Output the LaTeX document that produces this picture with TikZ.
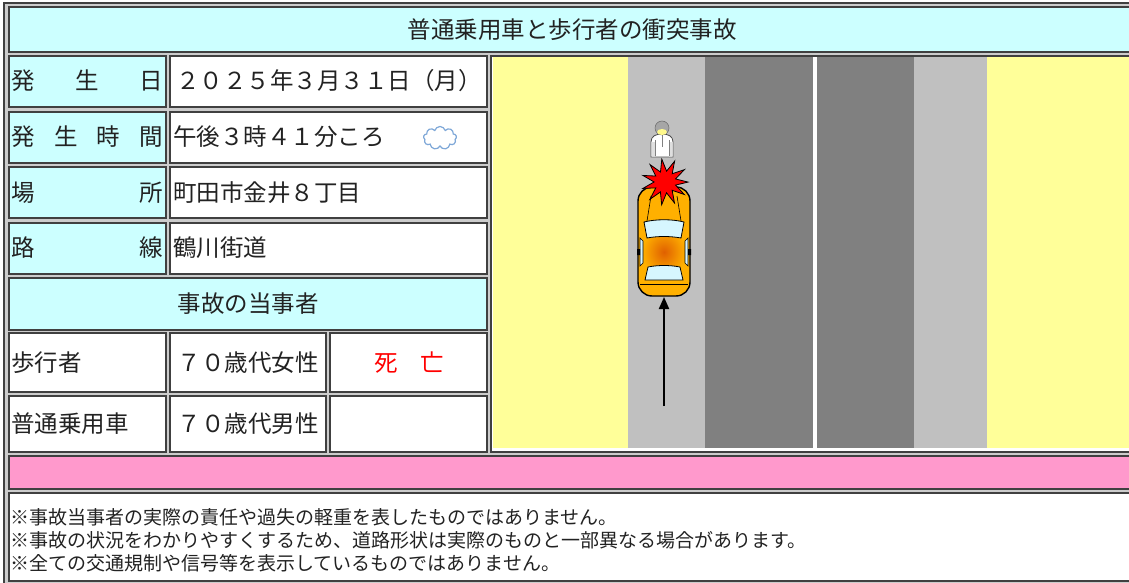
\documentclass[tikz,border=0pt]{standalone}
\usepackage{fontspec}
\setmainfont{Noto Sans CJK JP}
\usetikzlibrary{arrows.meta,shapes.geometric,shapes.symbols}
\definecolor{headcyan}{HTML}{CCFFFF}
\definecolor{roadside}{HTML}{FFFF99}
\definecolor{walkway}{HTML}{C0C0C0}
\definecolor{lane}{HTML}{808080}
\definecolor{bandpink}{HTML}{FF99CC}
\definecolor{carbody}{HTML}{FFB000}
\definecolor{carroof}{HTML}{E06000}
\definecolor{glass}{HTML}{D6F6FF}
\definecolor{cloudline}{HTML}{7FA8D8}
\definecolor{inkx}{HTML}{222222}
\tikzset{
  cell/.style={draw=black!75,line width=1.2pt},
  lab/.style={anchor=west,inner sep=0pt,font=\fontsize{23.5}{25}\selectfont,text=inkx},
  mid/.style={inner sep=0pt,font=\fontsize{23.5}{25}\selectfont,text=inkx},
  note/.style={anchor=west,inner sep=0pt,font=\fontsize{19}{20}\selectfont,text=inkx},
  ar/.style={-{Triangle[length=12pt,width=10pt]},line width=2pt,black}
}
\newcommand{\spreadlabel}[1]{\makebox[152pt][s]{#1}}

\begin{document}
\begin{tikzpicture}[x=1pt,y=-1pt]
\useasboundingbox (0,0) rectangle (1129,583);
\clip (0,0) rectangle (1129,583);
\fill[white] (0,0) rectangle (1129,583);
\fill[gray!40] (3,2) rectangle (1140,590);
\draw[black!75,line width=1.2pt] (4,600) -- (4,3) -- (1140,3);

% table cells
\draw[cell,fill=headcyan] (9,7) rectangle (1140,52);
\foreach \ya/\yb in {56/107,112/163,167/218,223/274}{
  \draw[cell,fill=headcyan] (9,\ya) rectangle (166,\yb);
  \draw[cell,fill=white] (170,\ya) rectangle (487,\yb);
}
\draw[cell,fill=headcyan] (9,278) rectangle (487,330);
\foreach \ya/\yb in {333/392,396/452}{
  \draw[cell,fill=white] (9,\ya) rectangle (166,\yb);
  \draw[cell,fill=white] (170,\ya) rectangle (326,\yb);
  \draw[cell,fill=white] (330,\ya) rectangle (487,\yb);
}
\draw[cell,fill=white] (491,56) rectangle (1140,452);
\draw[cell,fill=bandpink] (9,456) rectangle (1140,489);
\draw[cell,fill=white] (9,493) rectangle (1140,581);

% road, seen from above
\fill[roadside] (493,57) rectangle (628,448);
\fill[walkway] (628,57) rectangle (705,448);
\fill[lane] (705,57) rectangle (813,448);
\fill[white] (813,57) rectangle (817,448);
\fill[lane] (817,57) rectangle (914,448);
\fill[walkway] (914,57) rectangle (987,448);
\fill[roadside] (987,57) rectangle (1140,448);

% texts
\node[mid] (title) at (572,30) {普通乗用車と歩行者の衝突事故};
\node[lab] (date-lab) at (11,81) {\spreadlabel{発\hfill 生\hfill 日}};
\node[lab] (date-val) at (176,81) {２０２５年３月３１日（月）};
\node[lab] (time-lab) at (11,137) {\spreadlabel{発\hfill 生\hfill 時\hfill 間}};
\node[lab] (time-val) at (173,137) {午後３時４１分ころ};
\node[cloud,cloud puffs=9,aspect=1.7,draw=cloudline,line width=1.2pt,
  minimum width=33pt,minimum height=23pt,inner sep=0pt] (weather) at (440,138) {};
\node[lab] (place-lab) at (11,193) {\spreadlabel{場\hfill 所}};
\node[lab] (place-val) at (173,193) {町田市金井８丁目};
\node[lab] (route-lab) at (11,248) {\spreadlabel{路\hfill 線}};
\node[lab] (route-val) at (173,248) {鶴川街道};
\node[mid] (party-head) at (248,304) {事故の当事者};
\node[lab] (walker-lab) at (11,363) {歩行者};
\node[mid] (walker-age) at (248,363) {７０歳代女性};
\node[mid,text=red] (walker-hurt) at (409,363) {死\hspace{22pt}亡};
\node[lab] (driver-lab) at (11,424) {普通乗用車};
\node[mid] (driver-age) at (248,424) {７０歳代男性};
\node[note] (note-a) at (10,517) {※事故当事者の実際の責任や過失の軽重を表したものではありません。};
\node[note] (note-b) at (10,540) {※事故の状況をわかりやすくするため、道路形状は実際のものと一部異なる場合があります。};
\node[note] (note-c) at (10,563) {※全ての交通規制や信号等を表示しているものではありません。};

% car
\draw[fill=carbody,line width=1.4pt,rounded corners=14pt] (638,187) rectangle (690,296);
\shade[inner color=carroof,outer color=carbody] (664,252) ellipse (22 and 24);
\draw[fill=glass,line width=0.8pt] (644,222) .. controls (656,219) and (672,219) .. (684,222)
  -- (681,238) .. controls (670,236) and (658,236) .. (647,238) -- cycle;
\draw[fill=glass,line width=0.8pt] (648,267) .. controls (658,265) and (670,265) .. (680,267)
  -- (683,280) -- (645,280) -- cycle;
\draw[fill=glass,line width=0.6pt] (640,238) -- (643,241) -- (643,263) -- (640,266) -- cycle;
\draw[fill=glass,line width=0.6pt] (688,238) -- (685,241) -- (685,263) -- (688,266) -- cycle;
\fill[black] (637,249) rectangle (640,255) (688,249) rectangle (691,255);
\draw[line width=0.6pt] (651,196) -- (647,221) (677,196) -- (681,221);
\draw[line width=0.8pt] (640,284) -- (688,284);

% pedestrian
\draw[fill=white,draw=black!70,line width=0.8pt] (651,157) -- (651,142)
  .. controls (651,136) and (656,134) .. (662,134)
  .. controls (668,134) and (673,136) .. (673,142) -- (673,157) -- cycle;
\fill[gray!25] (651.5,142) rectangle (655,156.5) (669,142) rectangle (672.5,156.5);
\draw[black!50,line width=0.6pt] (655,140) -- (655,156) (669,140) -- (669,156) (662,135) -- (662,147);
\draw[fill=gray!70,draw=black!60,line width=0.5pt] (662,128) circle (7);
\fill[yellow!45] (662,132) ellipse (5 and 3);

% crash mark
\node[star,star points=11,star point ratio=2.1,fill=red,draw=black,line width=0.8pt,
  minimum size=46pt,inner sep=0pt,rotate=8] (crash) at (665,182) {};

% course of the car
\coordinate (car-rear) at (664,297);
\coordinate (car-from) at (664,406);
\draw[ar] (car-from) -- (car-rear);
\end{tikzpicture}
\end{document}
